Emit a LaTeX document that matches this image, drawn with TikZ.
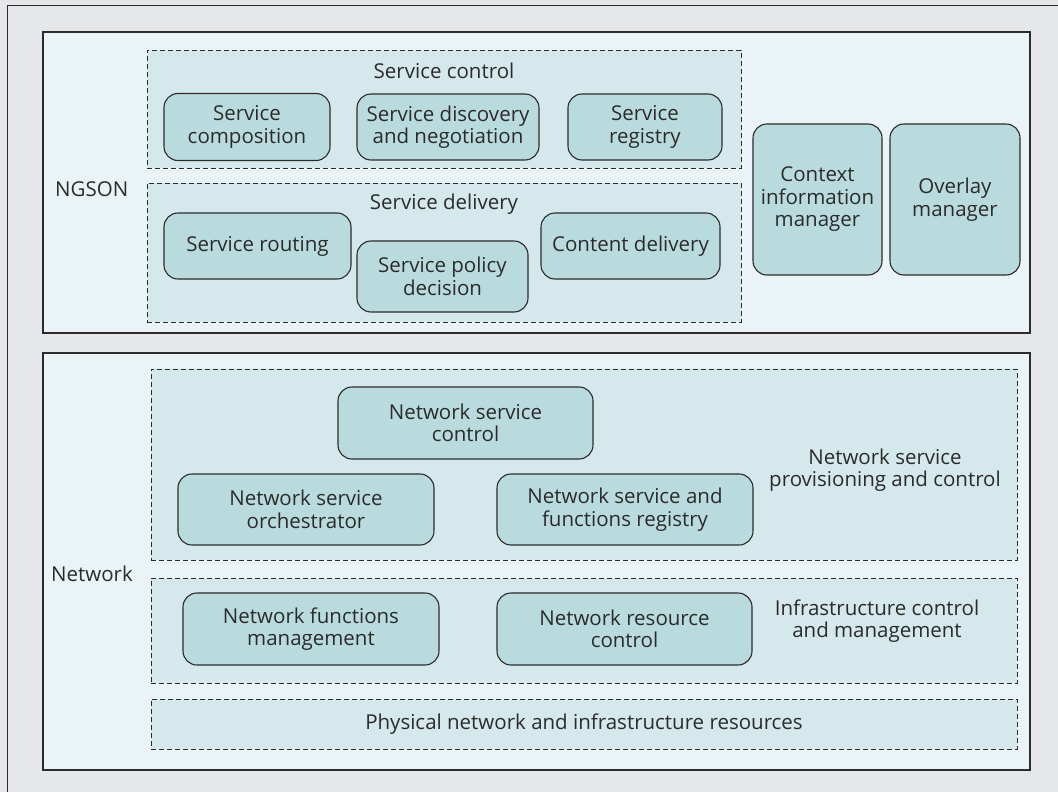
\documentclass[tikz,border=0pt]{standalone}
\usepackage{fontspec}
\setmainfont{Open Sans}
\definecolor{pagegray}{HTML}{E6E7E8}
\definecolor{layerfill}{HTML}{EAF3F5}
\definecolor{groupfill}{HTML}{D5E8EB}
\definecolor{unitfill}{HTML}{BADBDD}
\definecolor{inkgray}{HTML}{2B2B2B}
\tikzset{
  layer/.style={draw=inkgray, line width=1.3pt, fill=layerfill, inner sep=0pt},
  group/.style={draw=inkgray, line width=0.9pt, dash pattern=on 5pt off 3pt, fill=groupfill, inner sep=0pt},
  unit/.style={draw=inkgray, line width=1.1pt, fill=unitfill, rounded corners=14pt, align=center,
    inner sep=0pt, text=inkgray, font=\fontsize{20.5}{22.5}\selectfont},
  caption/.style={align=center, inner sep=0pt, text=inkgray, font=\fontsize{20.5}{22.5}\selectfont}
}
\begin{document}
\begin{tikzpicture}[x=1pt,y=-1pt]
    \useasboundingbox (0,0) rectangle (1058,792);
    \fill[pagegray] (0,0) rectangle (1058,792);
    \draw[inkgray, line width=1pt] (7,792) -- (7,6) -- (1058,6);

    \node[layer, minimum width=987pt, minimum height=301pt] (ngson) at (536.5,182.5) {};
    \node[layer, minimum width=987pt, minimum height=417pt] (network) at (536.5,561.5) {};

    \node[group, minimum width=594pt, minimum height=118pt] (sctrl) at (444,109) {};
    \node[group, minimum width=594pt, minimum height=139pt] (sdeliv) at (444,252.5) {};
    \node[group, minimum width=866pt, minimum height=191pt] (nspc) at (584,464.5) {};
    \node[group, minimum width=866pt, minimum height=105pt] (icm) at (584,630.5) {};
    \node[group, minimum width=866pt, minimum height=50pt] (phys) at (584,724) {};

    \node[caption, anchor=west] (ngsonlbl) at (55,189) {NGSON};
    \node[caption, anchor=west] (netlbl) at (51,574) {Network};
    \node[caption] (sctrllbl) at (444,71) {Service control};
    \node[caption] (sdelivlbl) at (444,204) {Service delivery};
    \node[caption] (nspclbl) at (885,470) {Network service\\provisioning and control};
    \node[caption] (icmlbl) at (877,621) {Infrastructure control\\and management};
    \node[caption] (physlbl) at (584,724) {Physical network and infrastructure resources};

    \node[unit, minimum width=166pt, minimum height=67pt] (scomp) at (247,127) {Service\\composition};
    \node[unit, minimum width=182pt, minimum height=66pt] (sdisc) at (448,127) {Service discovery\\and negotiation};
    \node[unit, minimum width=154pt, minimum height=66pt] (sreg) at (645,127) {Service\\registry};
    \node[unit, minimum width=187pt, minimum height=66pt] (srout) at (257.5,246) {Service routing};
    \node[unit, minimum width=171pt, minimum height=71pt] (spol) at (442.5,276.5) {Service policy\\decision};
    \node[unit, minimum width=179pt, minimum height=66pt] (cdeliv) at (630.5,246) {Content delivery};
    \node[unit, minimum width=129pt, minimum height=151pt] (ctxmgr) at (817.5,199.5) {Context\\information\\manager};
    \node[unit, minimum width=130pt, minimum height=151pt] (ovlmgr) at (955,199.5) {Overlay\\manager};

    \node[unit, minimum width=255pt, minimum height=72pt] (nsctrl) at (465.5,423) {Network service\\control};
    \node[unit, minimum width=256pt, minimum height=71pt] (nsorch) at (306,509.5) {Network service\\orchestrator};
    \node[unit, minimum width=256pt, minimum height=71pt] (nsreg) at (625,509.5) {Network service and\\functions registry};
    \node[unit, minimum width=256pt, minimum height=72pt] (nfmgmt) at (311,629) {Network functions\\management};
    \node[unit, minimum width=255pt, minimum height=72pt] (nrctrl) at (624.5,629) {Network resource\\control};
\end{tikzpicture}
\end{document}
